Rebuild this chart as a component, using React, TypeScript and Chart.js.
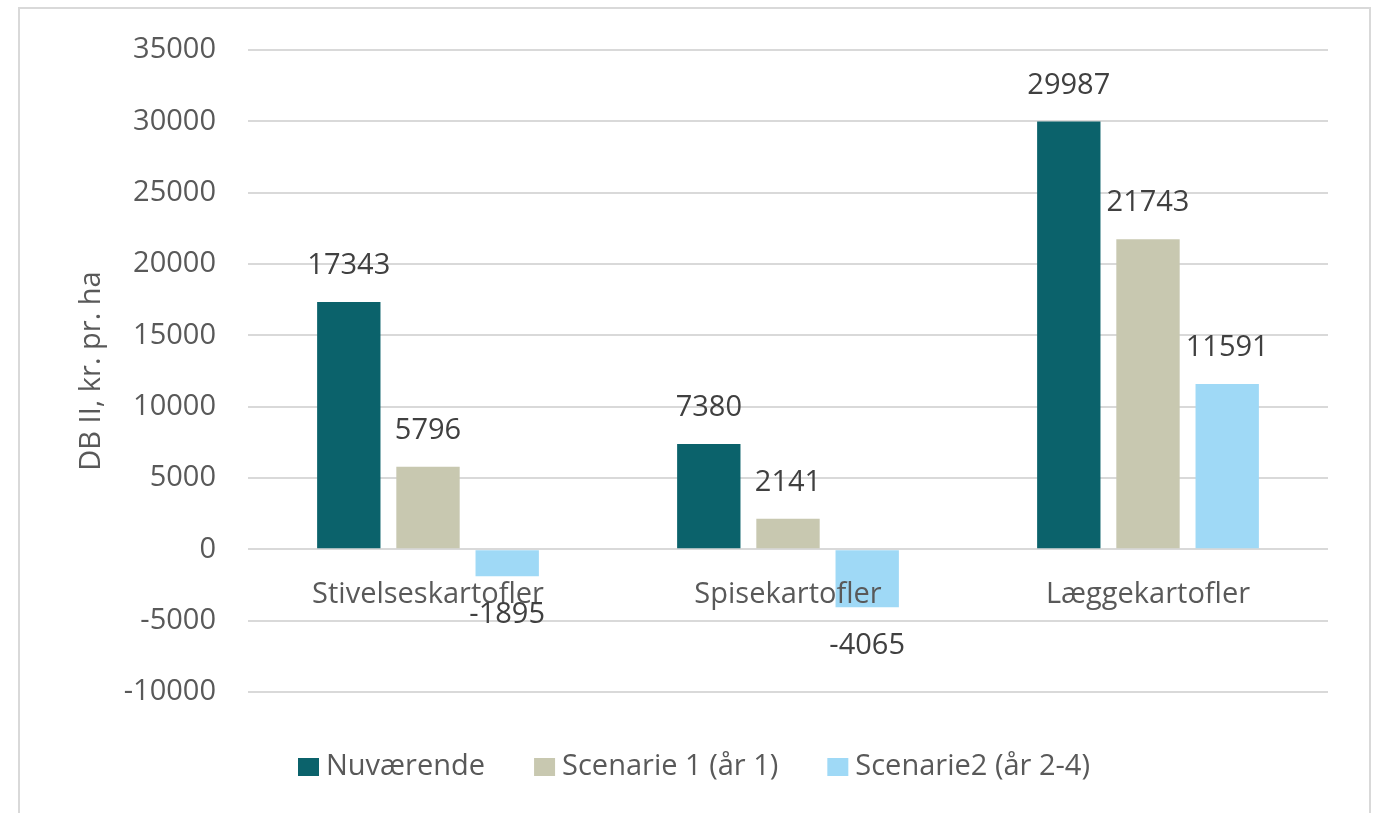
import React, { useEffect, useRef } from "react";
import { Chart, registerables } from "chart.js";

Chart.register(...registerables);

const categories = ["Stivelseskartofler", "Spisekartofler", "Læggekartofler"];
const seriesNames = ["Nuværende", "Scenarie 1 (år 1)", "Scenarie2 (år 2-4)"];
const nuvaerende = [17343, 7380, 29987];
const scenarie1 = [5796, 2141, 21743];
const scenarie2 = [-1895, -4065, 11591];
const seriesColors = ["#0b626b", "#c8c8b0", "#9fd9f6"];
const yTitle = "DB II, kr. pr. ha";

const FONT = "'Open Sans', 'DejaVu Sans', sans-serif";
const FS = 29;
const TEXT = "#595959";

const overlayPlugin = {
  id: "overlay",
  beforeDraw(chart: any) {
    const ctx = chart.ctx;
    ctx.save();
    ctx.fillStyle = "#ffffff";
    ctx.fillRect(0, 0, chart.width, chart.height);
    ctx.strokeStyle = "#d9d9d9";
    ctx.lineWidth = 2;
    ctx.strokeRect(19, 8, 1351, 840);
    ctx.restore();
  },
  afterDatasetsDraw(chart: any) {
    const ctx = chart.ctx;
    const y = chart.scales.y;
    const x = chart.scales.x;
    ctx.save();
    ctx.font = `${FS}px ${FONT}`;
    ctx.textAlign = "center";
    ctx.textBaseline = "middle";
    // category labels at zero line
    const zeroY = y.getPixelForValue(0);
    ctx.fillStyle = TEXT;
    categories.forEach((c, i) => {
      ctx.fillText(c, x.getPixelForValue(i), zeroY + 45);
    });
    // data labels
    ctx.fillStyle = "#404040";
    chart.data.datasets.forEach((ds: any, di: number) => {
      const meta = chart.getDatasetMeta(di);
      meta.data.forEach((bar: any, i: number) => {
        const v = ds.data[i];
        const yy = v >= 0 ? bar.y - 36 : bar.y + 38;
        ctx.fillText(String(v), bar.x, yy);
      });
    });
    // legend
    ctx.textAlign = "left";
    let lx = 298;
    const ly = 767;
    seriesNames.forEach((n, i) => {
      ctx.fillStyle = seriesColors[i];
      ctx.fillRect(lx, ly - 9, 21, 18);
      ctx.fillStyle = TEXT;
      ctx.fillText(n, lx + 28, ly);
      lx += 28 + ctx.measureText(n).width + 49;
    });
    ctx.restore();
  },
};

export default function App() {
  const ref = useRef<HTMLCanvasElement>(null);
  useEffect(() => {
    if (!ref.current) return;
    const chart = new Chart(ref.current, {
      type: "bar",
      data: {
        labels: categories,
        datasets: [nuvaerende, scenarie1, scenarie2].map((d, i) => ({
          label: seriesNames[i],
          data: d,
          backgroundColor: seriesColors[i],
          categoryPercentage: 0.66,
          barPercentage: 0.8,
        })),
      },
      options: {
        animation: false,
        responsive: false,
        maintainAspectRatio: false,
        layout: { padding: { left: 70, top: 50, right: 52, bottom: 121 } },
        plugins: { legend: { display: false }, tooltip: { enabled: false } },
        scales: {
          x: { display: false },
          y: {
            min: -10000,
            max: 35000,
            afterFit: (s: any) => {
              s.width = 178;
            },
            ticks: {
              stepSize: 5000,
              padding: 32,
              color: TEXT,
              font: { size: FS, family: FONT },
              callback: (v: any) => String(v),
            },
            grid: { color: "#d9d9d9", lineWidth: 2, drawTicks: false },
            border: { display: false },
            title: {
              display: true,
              text: yTitle,
              color: TEXT,
              font: { size: FS, family: FONT },
            },
          },
        },
      },
      plugins: [overlayPlugin],
    });
    return () => chart.destroy();
  }, []);
  return (
    <div style={{ position: "fixed", left: 0, top: 0, width: 1380, height: 813, background: "#fff" }}>
      <canvas ref={ref} width={1380} height={813} style={{ width: 1380, height: 813 }} />
    </div>
  );
}
